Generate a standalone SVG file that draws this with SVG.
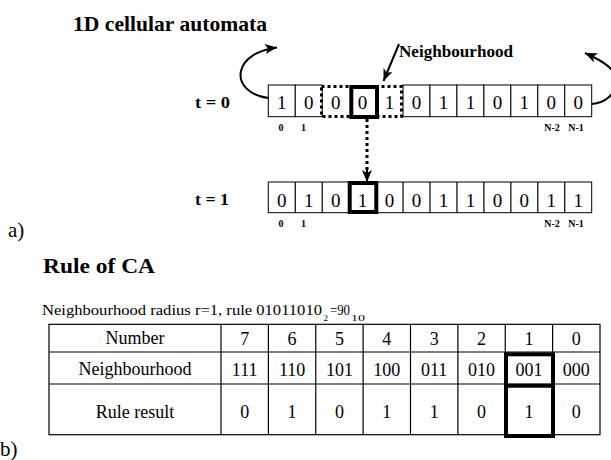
<svg xmlns="http://www.w3.org/2000/svg" width="611" height="460" viewBox="0 0 611 460" font-family="'Liberation Serif', 'DejaVu Serif', serif">
<style>
text{font-family:'Liberation Serif','DejaVu Serif',serif;fill:#000}
.b{font-weight:bold}
.cell{fill:#fff;stroke:#000;stroke-width:1}
.d{font-size:19px;text-anchor:middle}
.idx{font-size:10px;font-weight:bold;text-anchor:middle}
.thick{fill:none;stroke:#000;stroke-width:4}
.dot{fill:none;stroke:#000;stroke-width:3;stroke-dasharray:3 3}
.tl{fill:none;stroke:#000;stroke-width:1.2}
.tt{font-size:18px;text-anchor:middle}
.conn{fill:none;stroke:#000;stroke-width:2}
</style>
<defs>
<marker id="head" markerUnits="userSpaceOnUse" markerWidth="14" markerHeight="12" refX="12" refY="5" orient="auto">
<path d="M0,0 L12,5 L0,10 L3,5 z" fill="#000" stroke="none"/>
</marker>
</defs>
<rect width="611" height="460" fill="#fff"/>

<g id="titles">
<text class="b" x="73" y="31" font-size="21" textLength="194" lengthAdjust="spacingAndGlyphs">1D cellular automata</text>
<text x="8" y="237" font-size="21">a)</text>
<text class="b" x="43" y="273" font-size="20" textLength="112" lengthAdjust="spacingAndGlyphs">Rule of CA</text>
<text x="0" y="456" font-size="21">b)</text>
</g>

<g id="label-neighbourhood">
<text class="b" x="399" y="57" font-size="17" textLength="114" lengthAdjust="spacingAndGlyphs">Neighbourhood</text>
</g>

<g id="row-t0">
<text class="b" x="195" y="108" font-size="17" textLength="35" lengthAdjust="spacingAndGlyphs">t = 0</text>
<rect class="cell" x="268.3" y="85" width="26.95" height="31.7"/>
<rect class="cell" x="295.25" y="85" width="26.95" height="31.7"/>
<rect class="cell" x="403.05" y="85" width="26.95" height="31.7"/>
<rect class="cell" x="430" y="85" width="26.95" height="31.7"/>
<rect class="cell" x="456.95" y="85" width="26.95" height="31.7"/>
<rect class="cell" x="483.9" y="85" width="26.95" height="31.7"/>
<rect class="cell" x="510.85" y="85" width="26.95" height="31.7"/>
<rect class="cell" x="537.8" y="85" width="26.95" height="31.7"/>
<rect class="cell" x="564.75" y="85" width="26.95" height="31.7"/>
<rect class="dot" x="321.5" y="86.5" width="80" height="30"/>
<rect class="thick" x="351.3" y="87" width="25.7" height="30"/>
<text class="d" x="281.8" y="109">1</text>
<text class="d" x="308.7" y="109">0</text>
<text class="d" x="335.7" y="109">0</text>
<text class="d" x="362.6" y="109">0</text>
<text class="d" x="389.6" y="109">1</text>
<text class="d" x="416.5" y="109">0</text>
<text class="d" x="443.5" y="109">1</text>
<text class="d" x="470.4" y="109">1</text>
<text class="d" x="497.4" y="109">0</text>
<text class="d" x="524.3" y="109">1</text>
<text class="d" x="551.3" y="109">0</text>
<text class="d" x="578.2" y="109">0</text>
<text class="idx" x="281" y="131">0</text>
<text class="idx" x="303.5" y="131">1</text>
<text class="idx" x="552" y="131">N-2</text>
<text class="idx" x="576" y="131">N-1</text>
</g>

<g id="row-t1">
<text class="b" x="195" y="205" font-size="17" textLength="34" lengthAdjust="spacingAndGlyphs">t = 1</text>
<rect class="cell" x="268.3" y="182" width="323.4" height="30.7"/>
<path class="tl" d="M295.25,182V212.7M322.2,182V212.7M403.05,182V212.7M430,182V212.7M456.95,182V212.7M483.9,182V212.7M510.85,182V212.7M537.8,182V212.7M564.75,182V212.7" stroke-width="1"/>
<rect class="thick" x="349.7" y="183" width="26.6" height="29"/>
<text class="d" x="281.8" y="207">0</text>
<text class="d" x="308.7" y="207">1</text>
<text class="d" x="335.7" y="207">0</text>
<text class="d" x="362.6" y="207">1</text>
<text class="d" x="389.6" y="207">0</text>
<text class="d" x="416.5" y="207">0</text>
<text class="d" x="443.5" y="207">1</text>
<text class="d" x="470.4" y="207">1</text>
<text class="d" x="497.4" y="207">0</text>
<text class="d" x="524.3" y="207">0</text>
<text class="d" x="551.3" y="207">1</text>
<text class="d" x="578.2" y="207">1</text>
<text class="idx" x="281" y="227">0</text>
<text class="idx" x="303.5" y="227">1</text>
<text class="idx" x="552" y="227">N-2</text>
<text class="idx" x="576" y="227">N-1</text>
</g>

<g id="rule-table">
<text x="42" y="315" font-size="15" textLength="280" lengthAdjust="spacingAndGlyphs">Neighbourhood radius r=1, rule 01011010</text>
<text x="323.5" y="321" font-size="9">2</text>
<text x="330" y="315" font-size="14" textLength="20" lengthAdjust="spacingAndGlyphs">=90</text>
<text x="351" y="321" font-size="9" textLength="14" lengthAdjust="spacingAndGlyphs">10</text>
<rect class="tl" x="49" y="324.3" width="551" height="110.4"/>
<path class="tl" d="M49,352H600M49,384H600M221,324.3V434.7M268.4,324.3V434.7M315.75,324.3V434.7M363.1,324.3V434.7M410.5,324.3V434.7M457.9,324.3V434.7M505.25,324.3V434.7M552.6,324.3V434.7"/>
<text class="tt" x="135" y="344">Number</text>
<text class="tt" x="135" y="375">Neighbourhood</text>
<text class="tt" x="135" y="418">Rule result</text>
<text class="tt" x="244.7" y="345">7</text>
<text class="tt" x="292.1" y="345">6</text>
<text class="tt" x="339.4" y="345">5</text>
<text class="tt" x="386.8" y="345">4</text>
<text class="tt" x="434.2" y="345">3</text>
<text class="tt" x="481.6" y="345">2</text>
<text class="tt" x="528.9" y="345">1</text>
<text class="tt" x="576.3" y="345">0</text>
<text class="tt" x="244.7" y="376">111</text>
<text class="tt" x="292.1" y="376">110</text>
<text class="tt" x="339.4" y="376">101</text>
<text class="tt" x="386.8" y="376">100</text>
<text class="tt" x="434.2" y="376">011</text>
<text class="tt" x="481.6" y="376">010</text>
<text class="tt" x="528.9" y="376">001</text>
<text class="tt" x="576.3" y="376">000</text>
<text class="tt" x="244.7" y="418">0</text>
<text class="tt" x="292.1" y="418">1</text>
<text class="tt" x="339.4" y="418">0</text>
<text class="tt" x="386.8" y="418">1</text>
<text class="tt" x="434.2" y="418">1</text>
<text class="tt" x="481.6" y="418">0</text>
<text class="tt" x="528.9" y="418">1</text>
<text class="tt" x="576.3" y="418">0</text>
<rect class="thick" x="506" y="354.3" width="47" height="81.7"/>
<path class="thick" d="M506,385.8H553"/>
</g>

<g id="connectors">
<path class="conn" d="M268.3,98 C250,96 238,84 241,71 C244,58 258,50 277,47.5" marker-end="url(#head)"/>
<path class="conn" d="M591.7,104 C605,103 615,95 616,82 C617,70 605,62 585,53" marker-end="url(#head)"/>
<path class="conn" d="M399,44 L383.5,81" stroke-width="1.5" marker-end="url(#head)"/>
<path class="dot" d="M367,119 V172"/>
<path class="conn" d="M367,170 V182" stroke-width="0" marker-end="url(#head)"/>
</g>
</svg>
